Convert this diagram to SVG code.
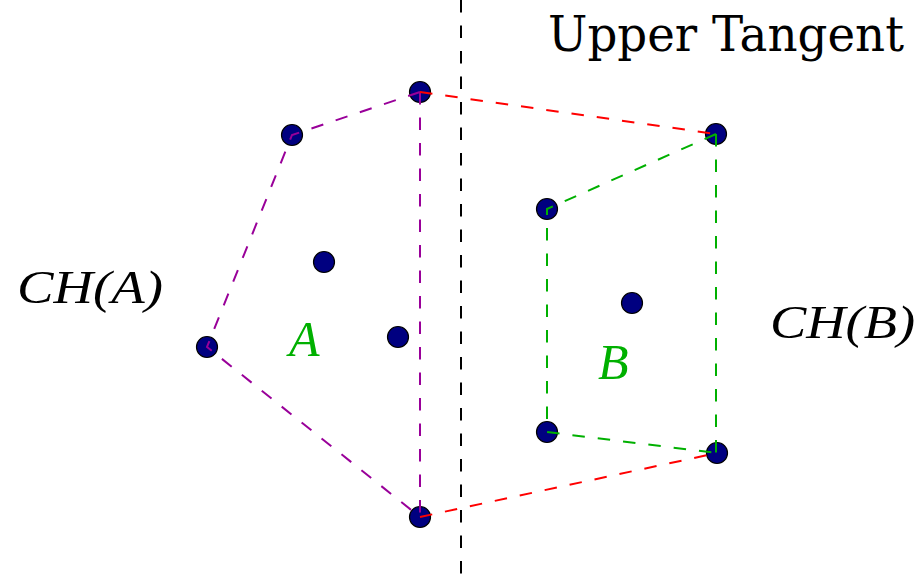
<svg xmlns="http://www.w3.org/2000/svg" width="921" height="583" viewBox="0 0 921 583">
<style>
.pt{fill:#000080;stroke:#000;stroke-width:1.2}
.ln{fill:none;stroke-width:2;stroke-dasharray:12.5 13}
.lbl{font-family:"Liberation Serif","DejaVu Serif",serif;font-style:italic;fill:#000}
.grn{font-family:"Liberation Serif","DejaVu Serif",serif;font-style:italic;fill:#00b000}
</style>
<rect width="921" height="583" fill="#fff"/>
<g id="points">
<circle class="pt" cx="420" cy="92" r="10.5"/>
<circle class="pt" cx="292" cy="135" r="10.5"/>
<circle class="pt" cx="324" cy="262" r="10.5"/>
<circle class="pt" cx="398" cy="337" r="10.5"/>
<circle class="pt" cx="207" cy="347" r="10.5"/>
<circle class="pt" cx="420" cy="517" r="10.5"/>
<circle class="pt" cx="716" cy="134" r="10.5"/>
<circle class="pt" cx="547" cy="209" r="10.5"/>
<circle class="pt" cx="632" cy="303" r="10.5"/>
<circle class="pt" cx="547" cy="432" r="10.5"/>
<circle class="pt" cx="717" cy="453" r="10.5"/>
</g>
<g id="connectors">
<line class="ln" x1="461" y1="0" x2="461" y2="583" stroke="#000"/>
<polyline class="ln" stroke="#990099" points="420,92 292,135 207,347 420,517"/>
<line class="ln" stroke="#990099" x1="420" y1="92" x2="420" y2="517"/>
<line class="ln" stroke="#ff0000" x1="420" y1="92" x2="716" y2="134"/>
<line class="ln" stroke="#ff0000" x1="420" y1="517" x2="717" y2="453"/>
<polyline class="ln" stroke="#00b000" points="716,134 547,209 547,432 717,453"/>
<line class="ln" stroke="#00b000" x1="716" y1="134" x2="716" y2="453"/>
</g>
<g id="labels">
<text x="548" y="51" font-family="'DejaVu Serif','Liberation Serif',serif" font-size="48" textLength="356" lengthAdjust="spacingAndGlyphs">Upper Tangent</text>
<text class="lbl" x="17" y="303" font-size="46" textLength="146" lengthAdjust="spacingAndGlyphs">CH(A)</text>
<text class="lbl" x="770" y="338" font-size="46" textLength="145" lengthAdjust="spacingAndGlyphs">CH(B)</text>
<text class="grn" x="289" y="356" font-size="50">A</text>
<text class="grn" x="598" y="379" font-size="50">B</text>
</g>
</svg>
